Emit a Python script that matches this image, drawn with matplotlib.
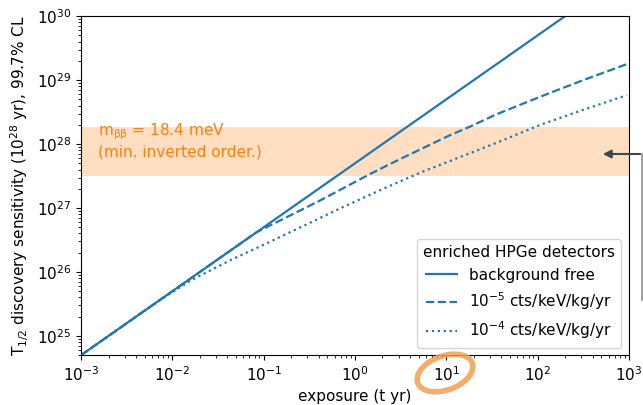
import matplotlib.pyplot as plt
from matplotlib.patches import Ellipse
from matplotlib.lines import Line2D

# exposure (t yr) and discovery sensitivity (yr)
exp_free = [1e-3, 1e3]
sens_free = [5.0e24, 5.0e30]

exp_b5 = [1e-3, 0.084, 0.2, 0.41, 1.46, 3.1, 11, 18, 35, 107, 316, 1000]
sens_b5 = [5.0e24, 4.2e26, 7.8e26, 1.3e27, 3.4e27, 5.8e27, 1.38e28, 1.86e28,
           2.9e28, 5.5e28, 1.0e29, 1.83e29]

exp_b4 = [1e-3, 0.005, 0.009, 0.016, 0.044, 0.091, 0.365, 0.69, 2.2, 5.5,
          18.2, 40, 107, 300, 948]
sens_b4 = [5.0e24, 2.5e25, 4.4e25, 7.4e25, 1.55e26, 2.5e26, 6.4e26, 9.9e26,
           2.1e27, 3.7e27, 7.2e27, 1.12e28, 2.0e28, 3.35e28, 5.8e28]

band = (3.16e27, 1.85e28)
band_text = '$\\mathrm{m_{ββ}}$ = 18.4 meV\n(min. inverted order.)'
labels = ['background free', '$10^{-5}$ cts/keV/kg/yr', '$10^{-4}$ cts/keV/kg/yr']

plt.rcParams['font.size'] = 11

fig = plt.figure(figsize=(6.43, 4.05), dpi=100)
ax = fig.add_axes([0.126, 0.123, 0.852, 0.837])

ax.axhspan(band[0], band[1], color='C1', alpha=0.25, lw=0)
ax.text(1.55e-3, 1.15e28, band_text, color='C1', va='center', ha='left', fontsize=11)

ax.plot(exp_free, sens_free, color='C0', ls='-', lw=1.6, label=labels[0])
ax.plot(exp_b5, sens_b5, color='C0', ls='--', lw=1.6, label=labels[1])
ax.plot(exp_b4, sens_b4, color='C0', ls=':', lw=1.6, label=labels[2])

ax.set_xscale('log')
ax.set_yscale('log')
ax.set_xlim(1e-3, 1e3)
ax.set_ylim(5e24, 1e30)
ax.set_xlabel('exposure (t yr)')
ax.set_ylabel('T$_{1/2}$ discovery sensitivity ($10^{28}$ yr), 99.7% CL')

ax.legend(title='enriched HPGe detectors', loc='lower right')

# annotations drawn over the slide
ell = Ellipse((4.45, 0.32), 0.58, 0.34, angle=20, fill=False,
              edgecolor='#f0a050', lw=4, alpha=0.85, transform=fig.dpi_scale_trans)
fig.add_artist(ell)
fig.add_artist(Line2D([642/643, 642/643], [1-154/405, 1-300/405], color='#909090',
                      lw=1.2, transform=fig.transFigure))
ax.annotate('', xy=(600/643, 1-154/405), xytext=(643/643, 1-154/405),
            xycoords='figure fraction', textcoords='figure fraction',
            arrowprops=dict(arrowstyle='-|>', color='#3b4a4a', lw=1.5, mutation_scale=12))

plt.savefig('out.png', dpi=100)
